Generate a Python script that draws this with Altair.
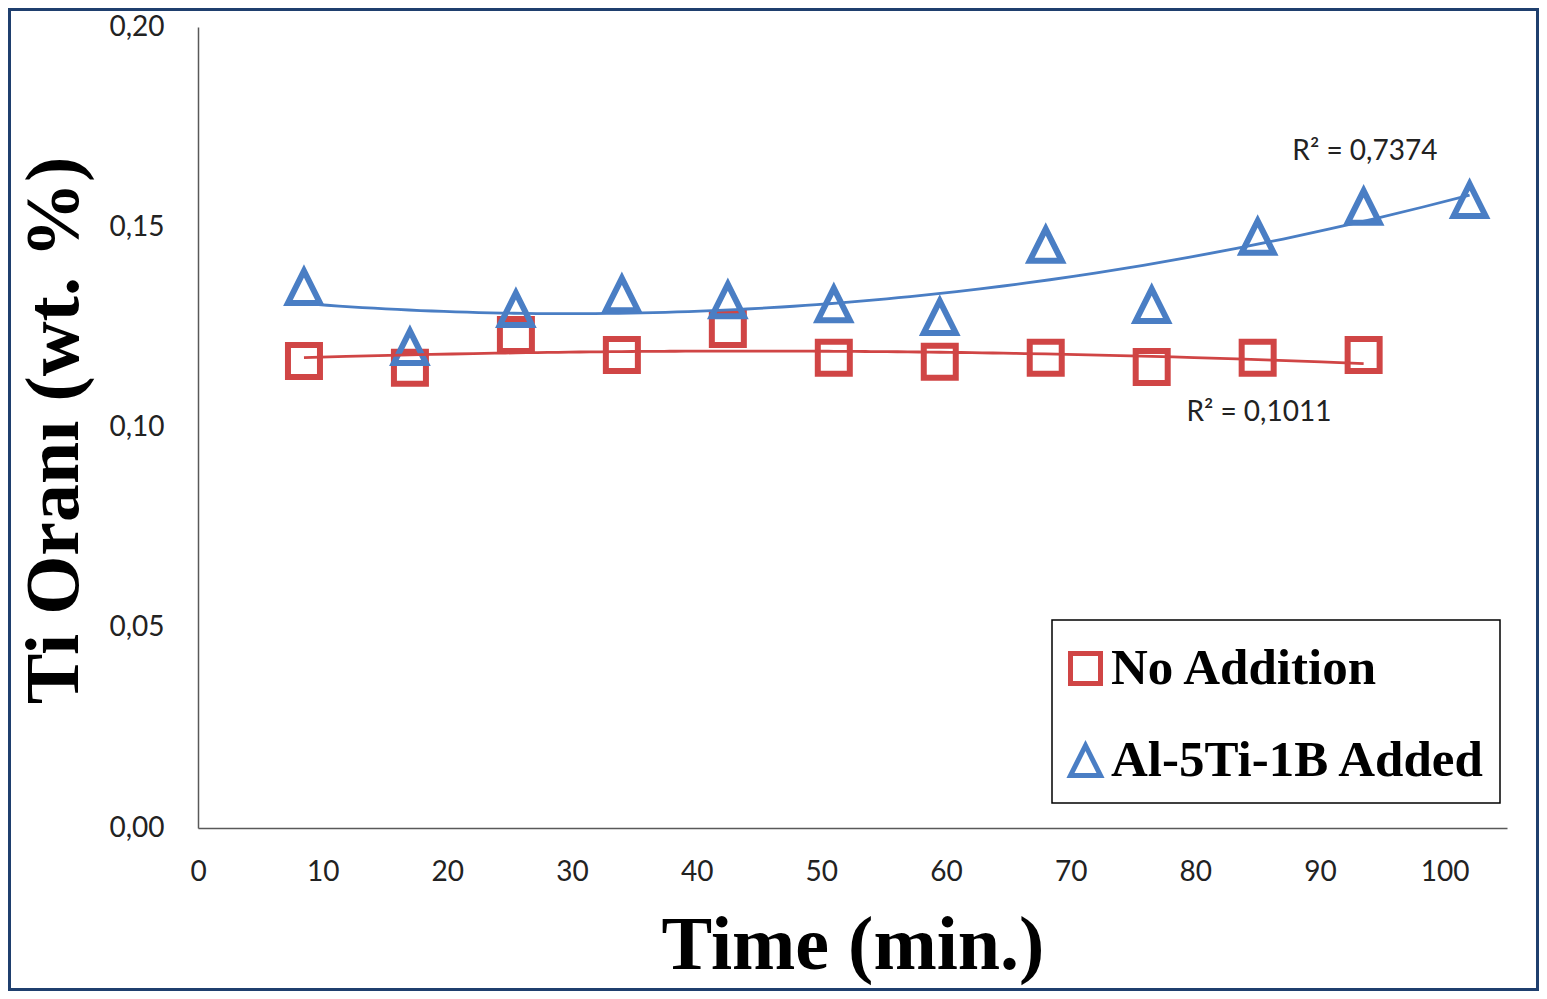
import altair as alt
import pandas as pd

# ---- data ----
time_red = [8.5, 17, 25.5, 34, 42.5, 51, 59.5, 68, 76.5, 85, 93.5]
ti_red = [0.1166, 0.1149, 0.1231, 0.1181, 0.1246, 0.1174, 0.1164, 0.1174, 0.1151, 0.1174, 0.1181]
time_blue = [8.5, 17, 25.5, 34, 42.5, 51, 59.5, 68, 76.5, 85, 93.5, 102]
ti_blue = [0.1351, 0.1201, 0.1296, 0.1333, 0.1318, 0.1308, 0.1276, 0.1456, 0.1306, 0.1476, 0.1551, 0.1568]
series_names = ["No Addition", "Al-5Ti-1B Added"]
x_ticks = [0, 10, 20, 30, 40, 50, 60, 70, 80, 90, 100]
y_ticks = [0.0, 0.05, 0.10, 0.15, 0.20]
r2_text = ["R² = 0,7374", "R² = 0,1011"]
r2_x = [93.6, 85.1]
r2_y = [0.1688, 0.1036]

colors = ["#D04545", "#4A7EC4"]
shapes = ["square", "M-1,1L1,1L0,-1Z"]

df = pd.DataFrame({
    "time": time_red + time_blue,
    "ti": ti_red + ti_blue,
    "series": [series_names[0]] * len(time_red) + [series_names[1]] * len(time_blue),
})
ann = pd.DataFrame({"text": r2_text, "x": r2_x, "y": r2_y})
one_row = pd.DataFrame({"f": [0]})

W, H = 1309, 801
PAD = {"left": 190, "top": 19, "right": 32, "bottom": 163}

x_enc = alt.X("time:Q", scale=alt.Scale(domain=[0, 105], nice=False, zero=False),
              axis=alt.Axis(values=x_ticks, title="Time (min.)", grid=False, ticks=False,
                            labelFlush=False,
                            domainColor="#595959", domainWidth=1.5,
                            labelFont="Lato", labelFontSize=28, labelColor="#222222",
                            labelPadding=44, labelBaseline="middle",
                            titleFont="Liberation Serif", titleFontSize=76, titleFontWeight="bold",
                            titleColor="black", titleBaseline="alphabetic",
                            titleX=W / 2, titleY=140, titleAlign="center"))
y_enc = alt.Y("ti:Q", scale=alt.Scale(domain=[0, 0.2], nice=False),
              axis=alt.Axis(values=y_ticks, title="Ti Oranı (wt. %)", grid=False, ticks=False,
                            labelFlush=False,
                            labelExpr="replace(format(datum.value, '.2f'), '.', ',')",
                            domainColor="#595959", domainWidth=1.5,
                            labelFont="Lato", labelFontSize=28, labelColor="#222222",
                            labelPadding=34,
                            titleFont="Liberation Serif", titleFontSize=76, titleFontWeight="bold",
                            titleColor="black", titleAngle=-90, titleBaseline="alphabetic",
                            titleAlign="center", titleX=-121, titleY=403))

color_scale = alt.Scale(domain=series_names, range=colors)

points = alt.Chart(df).mark_point(filled=False, size=1024, strokeWidth=6, opacity=1).encode(
    x=x_enc, y=y_enc,
    color=alt.Color("series:N", scale=color_scale, sort=series_names,
                    legend=alt.Legend(title=None, orient="none", legendX=854, legendY=608,
                                      padding=8, rowPadding=40, labelOffset=0,
                                      labelFont="Liberation Serif", labelFontSize=51,
                                      labelFontWeight="bold", labelColor="black",
                                      symbolSize=900, symbolStrokeWidth=5, labelLimit=0)),
    shape=alt.Shape("series:N", scale=alt.Scale(domain=series_names, range=shapes),
                    sort=series_names),
)

trend = alt.Chart(df).transform_regression(
    "time", "ti", method="poly", order=2, groupby=["series"]
).mark_line(strokeWidth=2.8).encode(
    x="time:Q", y="ti:Q",
    color=alt.Color("series:N", scale=color_scale, legend=None),
)

labels = alt.Chart(ann).mark_text(font="Lato", fontSize=28, color="#222222").encode(
    x="x:Q", y="y:Q", text="text:N"
)

legend_box = alt.Chart(one_row).mark_rect(fill=None, stroke="black", strokeWidth=1.5).encode(
    x=alt.value(854), x2=alt.value(1302), y=alt.value(593), y2=alt.value(776),
)

frame = alt.Chart(one_row).mark_rect(fill=None, stroke="#1F3F6E", strokeWidth=3).encode(
    x=alt.value(-PAD["left"] + 1.5), x2=alt.value(W + PAD["right"] - 1.5),
    y=alt.value(-PAD["top"] + 1.5), y2=alt.value(H + PAD["bottom"] - 1.5),
)

chart = alt.layer(points, trend, labels, legend_box, frame).properties(
    width=W, height=H,
    autosize=alt.AutoSizeParams(type="none"),
    padding=PAD,
    background="white",
).configure_view(stroke=None)

chart.save("out.html", embed_options={"renderer": "svg", "actions": False})
